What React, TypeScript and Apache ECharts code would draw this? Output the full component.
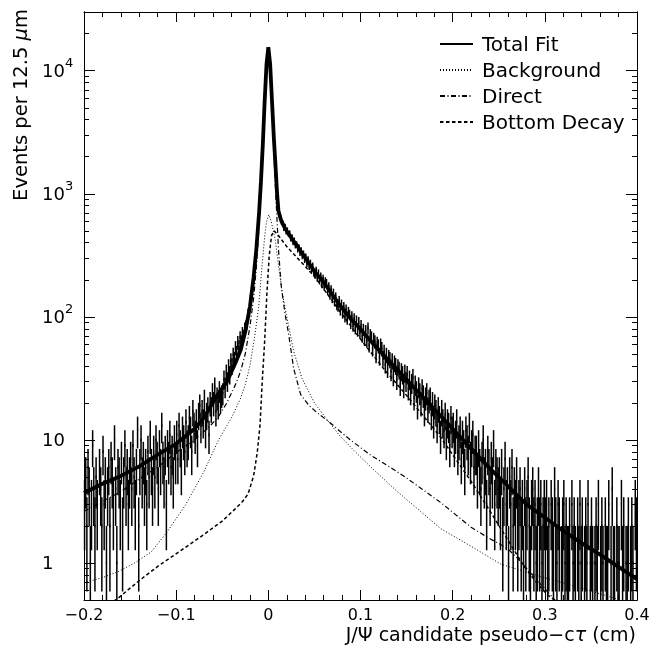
import * as echarts from "echarts"
import { useEffect, useRef } from "react"

// J/psi pseudo-proper decay length: binned data (12.5 um bins) with the fit and its three components.
const BIN = 0.00125
const X_START = -0.2
const Y_MIN = 0.5
const Y_MAX = 30000
const FONT = "DejaVu Sans"

// events per bin from left to right
const countsLeftTail = [
  3, 5, 2, 6, 4, 1, 3, 9, 4, 2, 5, 3, 0, 6, 4, 2, 8, 3, 5, 1,
  4, 6, 2, 7, 5, 3, 10, 4, 1, 6, 5, 3, 7, 2, 5, 9, 4, 6, 3, 5,
  7, 4, 9, 5, 3, 6, 12, 2, 6, 10, 5, 7, 4, 6, 3, 8, 5, 11, 6, 4,
  8, 5, 10, 7, 4, 9, 6, 13, 7, 5, 8, 3, 9, 7, 11, 6, 8, 5, 10, 7,
]
const countsLeftRise = [
  11, 7, 13, 9, 6, 12, 10, 8, 14, 9, 10, 15, 12, 8, 17, 13, 11, 14, 9, 16,
  19, 13, 17, 14, 21, 12, 16, 18, 11, 20, 18, 24, 20, 27, 17, 22, 19, 25, 21, 23,
  24, 31, 27, 35, 30, 39, 34, 44, 40, 49, 45, 56, 51, 62, 57, 68, 63, 74, 70, 81,
]
const countsPeak = [
  84, 88, 106, 109, 138, 149, 191, 218, 284, 339, 471, 605, 868, 1212, 1889, 2985, 4831, 7542, 11803, 14730,
  14690, 11620, 7705, 4862, 3281, 2158, 1573, 1001, 789, 671, 652, 583, 588, 521, 547, 489, 511, 468, 482, 431,
]
const countsRightSlope = [
  447, 402, 421, 379, 391, 352, 370, 331, 349, 311, 328, 291, 309, 271, 294, 256, 275, 243, 260, 229,
  219, 240, 207, 228, 197, 215, 184, 205, 177, 196, 189, 163, 178, 150, 168, 141, 157, 133, 146, 124,
  121, 136, 113, 127, 107, 121, 100, 115, 96, 110, 104, 89, 101, 85, 97, 81, 93, 78, 90, 75,
  85, 70, 79, 66, 77, 64, 81, 59, 71, 68, 55, 66, 63, 49, 61, 58, 47, 59, 55, 46,
  52, 41, 49, 38, 47, 45, 36, 44, 33, 42, 40, 31, 39, 37, 28, 36, 34, 27, 35, 30,
  34, 26, 31, 24, 29, 32, 22, 28, 25, 19, 27, 24, 20, 26, 23, 17, 22, 24, 18, 21,
  22, 16, 20, 14, 19, 17, 13, 18, 15, 11, 17, 14, 12, 16, 10, 14, 13, 9, 15, 12,
]
const countsRightTail = [
  13, 9, 11, 14, 8, 10, 12, 7, 11, 9, 6, 12, 10, 8, 13, 7, 9, 11, 6, 8,
  8, 5, 9, 6, 4, 7, 10, 5, 6, 3, 8, 6, 4, 7, 5, 9, 3, 6, 5, 4,
  5, 3, 6, 2, 4, 7, 3, 4, 1, 5, 3, 6, 2, 4, 3, 5, 2, 3, 4, 2,
  3, 1, 4, 2, 3, 5, 2, 1, 3, 4, 2, 3, 1, 2, 4, 2, 3, 1, 2, 3,
  2, 3, 1, 2, 0, 3, 2, 1, 4, 2, 1, 3, 2, 0, 1, 2, 3, 1, 2, 1,
  1, 2, 0, 3, 1, 2, 1, 0, 2, 1, 3, 1, 2, 0, 1, 2, 1, 3, 0, 1,
  2, 1, 0, 1, 2, 1, 3, 0, 1, 2, 1, 0, 2, 1, 1, 3, 0, 1, 4, 1,
  1, 0, 2, 1, 1, 0, 3, 1, 2, 0, 1, 1, 2, 0, 1, 2, 1, 0, 3, 2,
]

// fit curves, [pseudo-c tau (cm), events per bin]
const totalFit: [number, number][] = [
  [-0.2, 3.7], [-0.18, 4.4], [-0.16, 5.1], [-0.14, 6.1], [-0.12, 7.6], [-0.1, 9.3], [-0.09, 10.7],
  [-0.08, 12.3], [-0.07, 15.1], [-0.055, 23.4], [-0.045, 29.5], [-0.036, 41.7], [-0.03, 53.7],
  [-0.025, 75.9], [-0.02, 120], [-0.016, 209], [-0.013, 355], [-0.01, 708], [-0.008, 1259],
  [-0.006, 2512], [-0.004, 5623], [-0.002, 11220], [0, 15490], [0.002, 11220], [0.004, 5623],
  [0.006, 2818], [0.008, 1585], [0.0095, 1000], [0.011, 724], [0.014, 603], [0.018, 525],
  [0.025, 437], [0.031, 380], [0.04, 302], [0.051, 229], [0.06, 191], [0.078, 123], [0.09, 95.5],
  [0.1, 79.4], [0.12, 53.7], [0.14, 37.2], [0.16, 25.7], [0.18, 17.8], [0.2, 12.3], [0.22, 8.5],
  [0.24, 5.9], [0.26, 4.2], [0.28, 3.0], [0.3, 2.34], [0.32, 1.82], [0.34, 1.45], [0.36, 1.17],
  [0.38, 0.93], [0.4, 0.74],
]
const background: [number, number][] = [
  [-0.2, 0.69], [-0.18, 0.76], [-0.163, 0.85], [-0.145, 1.0], [-0.127, 1.23], [-0.11, 1.78],
  [-0.09, 2.95], [-0.07, 5.5], [-0.054, 10], [-0.04, 15.1], [-0.03, 21.9], [-0.025, 28.2],
  [-0.02, 39.8], [-0.015, 67.6], [-0.0105, 120], [-0.007, 251], [-0.004, 447], [-0.002, 589],
  [0.0005, 676], [0.003, 603], [0.0076, 417], [0.011, 263], [0.015, 158], [0.02, 100],
  [0.0275, 52.5], [0.0365, 31.6], [0.05, 20], [0.064, 14.5], [0.078, 10.7], [0.095, 7.9],
  [0.114, 5.75], [0.14, 3.8], [0.165, 2.63], [0.187, 1.9], [0.219, 1.38], [0.252, 0.98],
  [0.292, 0.79], [0.328, 0.66], [0.364, 0.55], [0.385, 0.49],
]
const direct: [number, number][] = [
  [-0.2, 2.63], [-0.18, 3.16], [-0.16, 3.8], [-0.14, 4.8], [-0.12, 6.0], [-0.1, 7.9], [-0.08, 10],
  [-0.065, 12.6], [-0.055, 15.1], [-0.045, 20], [-0.035, 28.8], [-0.03, 36.3], [-0.025, 50.1],
  [-0.02, 83.2], [-0.016, 141], [-0.013, 251], [-0.01, 562], [-0.008, 1047], [-0.006, 2239],
  [-0.004, 5248], [-0.002, 10715], [0, 14454], [0.002, 10715], [0.004, 5248], [0.006, 2239],
  [0.008, 1000], [0.0095, 603], [0.011, 355], [0.014, 178], [0.018, 107], [0.022, 72.4],
  [0.0275, 38], [0.035, 23.4], [0.044, 19.1], [0.053, 16.6], [0.067, 13.8], [0.078, 11.7],
  [0.089, 10], [0.11, 7.6], [0.136, 5.75], [0.15, 4.9], [0.187, 3.1], [0.22, 1.95], [0.24, 1.58],
  [0.259, 1.32], [0.27, 1.1], [0.281, 0.89], [0.295, 0.68], [0.306, 0.55], [0.312, 0.49],
]
const bottomDecay: [number, number][] = [
  [-0.168, 0.49], [-0.164, 0.51], [-0.14, 0.72], [-0.119, 0.95], [-0.095, 1.26], [-0.072, 1.66],
  [-0.05, 2.19], [-0.036, 2.75], [-0.028, 3.16], [-0.022, 3.63], [-0.016, 5.1], [-0.012, 7.9],
  [-0.009, 13.2], [-0.0068, 28.2], [-0.004, 63], [-0.0015, 158], [0.001, 316], [0.0035, 457],
  [0.006, 501], [0.01, 468], [0.02, 372], [0.035, 282], [0.051, 209], [0.078, 110], [0.1, 66],
  [0.125, 38], [0.15, 23], [0.187, 10.5], [0.22, 4.6], [0.241, 2.6], [0.262, 1.45], [0.277, 0.95],
  [0.292, 0.68], [0.303, 0.55], [0.312, 0.49],
]

const yMajorTicks = [1, 10, 100, 1000, 10000]
const yMinorTicks = [
  0.6, 0.7, 0.8, 0.9, 2, 3, 4, 5, 6, 7, 8, 9, 20, 30, 40, 50, 60, 70, 80, 90,
  200, 300, 400, 500, 600, 700, 800, 900, 2000, 3000, 4000, 5000, 6000, 7000, 8000, 9000, 20000,
]

const counts = [...countsLeftTail, ...countsLeftRise, ...countsPeak, ...countsRightSlope, ...countsRightTail]

export default function App() {
  const ref = useRef<HTMLDivElement>(null)

  useEffect(() => {
    if (!ref.current) return
    const chart = echarts.init(ref.current, undefined, { renderer: "svg" })

    const histData = counts
      .map((n, i) => [X_START + (i + 0.5) * BIN, n])
      .filter((d) => d[1] > 0)

    const xAxisBase = {
      type: "value",
      min: -0.2,
      max: 0.4,
      interval: 0.1,
      splitLine: { show: false },
      axisLine: { show: true, onZero: false, lineStyle: { color: "#000", width: 1 } },
      axisTick: { show: true, inside: true, length: 10, lineStyle: { color: "#000" } },
      minorTick: { show: true, splitNumber: 5, length: 5, lineStyle: { color: "#000" } },
    }
    const yAxisBase = {
      type: "log",
      logBase: 10,
      min: Y_MIN,
      max: Y_MAX,
      splitLine: { show: false },
      axisLine: { show: true, onZero: false, lineStyle: { color: "#000", width: 1 } },
    }
    const majorTick = { show: true, inside: true, length: 11, customValues: yMajorTicks, lineStyle: { color: "#000" } }
    const minorTick = { show: true, inside: true, length: 5, customValues: yMinorTicks, lineStyle: { color: "#000" } }

    const curve = (name: string, data: [number, number][], lineStyle: object) => ({
      name,
      type: "line",
      data,
      symbol: "none",
      z: 4,
      lineStyle: { color: "#000", ...lineStyle },
      itemStyle: { color: "#000", opacity: 0 },
    })

    chart.setOption({
      animation: false,
      grid: { left: 84, right: 28, top: 12, bottom: 48 },
      legend: {
        data: ["Total Fit", "Background", "Direct", "Bottom Decay"],
        orient: "vertical",
        left: 434,
        top: 29,
        itemWidth: 33,
        itemHeight: 12,
        itemGap: 6,
        selectedMode: false,
        itemStyle: { opacity: 0 },
        textStyle: { fontFamily: FONT, fontSize: 20, color: "#000", padding: [0, 0, 0, 4] },
      },
      xAxis: [
        {
          ...xAxisBase,
          position: "bottom",
          axisLabel: {
            color: "#000",
            fontFamily: FONT,
            fontSize: 16,
            margin: 6,
            formatter: (v: number) => {
              const r = Math.round(v * 10) / 10
              return r < 0 ? "\u2212" + Math.abs(r) : String(r)
            },
          },
        },
        { ...xAxisBase, position: "top", axisLabel: { show: false } },
      ],
      yAxis: [
        {
          ...yAxisBase,
          position: "left",
          axisTick: majorTick,
          axisLabel: {
            customValues: yMajorTicks,
            align: "left",
            margin: 42,
            color: "#000",
            fontFamily: FONT,
            fontSize: 18,
            lineHeight: 30,
            formatter: (v: number) => {
              const p = Math.round(Math.log10(v))
              return p <= 1 ? String(Math.round(v)) : `10{s|${p}}`
            },
            rich: { s: { fontFamily: FONT, fontSize: 13, color: "#000", verticalAlign: "top", lineHeight: 13 } },
          },
        },
        { ...yAxisBase, position: "left", axisTick: minorTick, axisLabel: { show: false } },
        { ...yAxisBase, position: "right", axisTick: majorTick, axisLabel: { show: false } },
        { ...yAxisBase, position: "right", axisTick: minorTick, axisLabel: { show: false } },
      ],
      graphic: [
        {
          type: "text",
          x: 20,
          y: 105,
          rotation: Math.PI / 2,
          style: {
            text: "Events per 12.5 {i|\u03bc}m",
            rich: { i: { fontStyle: "italic", fontFamily: FONT, fontSize: 19.5, fill: "#000" } },
            fontFamily: FONT,
            fontSize: 19.5,
            fill: "#000",
            align: "center",
            verticalAlign: "middle",
          },
        },
        {
          type: "text",
          x: 636,
          y: 624,
          style: {
            text: "J/\u03a8 candidate pseudo\u2212c{i|\u03c4} (cm)",
            rich: { i: { fontStyle: "italic", fontFamily: FONT, fontSize: 19, fill: "#000" } },
            fontFamily: FONT,
            fontSize: 19,
            fill: "#000",
            align: "right",
            verticalAlign: "top",
          },
        },
      ],
      series: [
        {
          name: "data",
          type: "custom",
          z: 2,
          data: histData,
          encode: { x: 0, y: 1 },
          renderItem: (_params: unknown, api: any) => {
            const x = api.value(0)
            const n = api.value(1)
            const e = Math.sqrt(n)
            const top = api.coord([x, Math.min(n + e, Y_MAX)])
            const bot = api.coord([x, Math.max(n - e, Y_MIN)])
            const l = api.coord([x - BIN / 2, n])
            const r = api.coord([x + BIN / 2, n])
            return {
              type: "group",
              children: [
                {
                  type: "line",
                  shape: { x1: top[0], y1: top[1], x2: bot[0], y2: bot[1] },
                  style: { stroke: "#000", lineWidth: 1.5 },
                },
                {
                  type: "line",
                  shape: { x1: l[0], y1: l[1], x2: r[0], y2: r[1] },
                  style: { stroke: "#000", lineWidth: 3 },
                },
              ],
            }
          },
        },
        curve("Total Fit", totalFit, { width: 3.8 }),
        curve("Background", background, { width: 1, type: [1, 2] }),
        curve("Direct", direct, { width: 1.2, type: [5, 2.5, 1, 2.5] }),
        curve("Bottom Decay", bottomDecay, { width: 1.5, type: [3.5, 2.5] }),
      ],
    })

    return () => chart.dispose()
  }, [])

  return <div ref={ref} style={{ position: "fixed", left: 0, top: 0, width: 665, height: 648 }} />
}
